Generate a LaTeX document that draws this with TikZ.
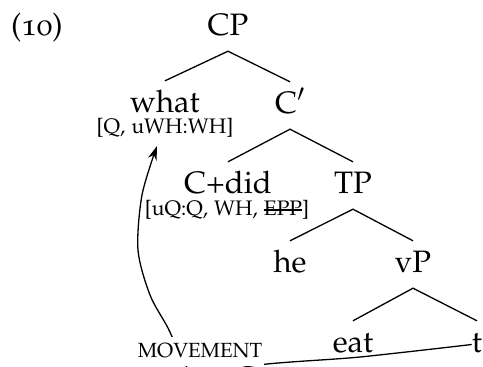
\documentclass[tikz,border=0pt]{standalone}
\usepackage[T1]{fontenc}
\usepackage[osf,sc]{mathpazo}
\usetikzlibrary{arrows.meta}
\newcommand\mystrike[1]{\setbox0\hbox{#1}\rlap{\rule[0.45ex]{\wd0}{1.3pt}}\box0}
\begin{document}
\begin{tikzpicture}[x=1pt,y=-1pt,
  cat/.style={anchor=base, inner xsep=0pt, inner ysep=10pt, text height=21pt, text depth=6pt, font=\fontsize{31}{36}\selectfont},
  feat/.style={anchor=base, inner sep=0pt, font=\fontsize{21}{24}\selectfont},
  branch/.style={line width=1.3pt},
  movearrow/.style={line width=1.3pt, -{Stealth[length=14pt,width=9pt]}},
  movelabel/.style={anchor=base, fill=white, inner xsep=2pt, inner ysep=6pt, text depth=2.5pt, font=\fontsize{20.5}{24}\selectfont}
]
\useasboundingbox (0,0) rectangle (483,367);
\node[cat] (ex) at (37,35) {(10)};
\node[cat] (CP) at (228,35) {CP};
\node[cat] (what) at (165,112) {what};
\node[feat] (whatf) at (165,133) {[Q, uWH:WH]};
\node[cat] (Cbar) at (290,113) {C$'$};
\node[cat] (Cdid) at (228,193) {C+did};
\node[feat] (Cdidf) at (227,215) {[uQ:Q, WH, \mystrike{EPP}]};
\node[cat] (TP) at (353,193) {TP};
\node[cat] (he) at (290,272) {he};
\node[cat] (vP) at (413,272) {vP};
\node[cat] (eat) at (353,352) {eat};
\node[cat] (t) at (477,352) {t};
\draw[branch] (what.north) -- (CP.south) -- (Cbar.north);
\draw[branch] (Cdid.north) -- (Cbar.south) -- (TP.north);
\draw[branch] (he.north) -- (TP.south) -- (vP.north);
\draw[branch] (eat.north) -- (vP.south) -- (t.north);
\coordinate (tip) at (157,146);
\draw[movearrow] plot[smooth, tension=0.5] coordinates {(t.west) (360,357) (245,367) (205,390) (183,360) (168,328) (150,295) (138,250) (142,195) (tip)};
\node[movelabel] (mv) at (200,357) {MOVEMENT};
\end{tikzpicture}
\end{document}
